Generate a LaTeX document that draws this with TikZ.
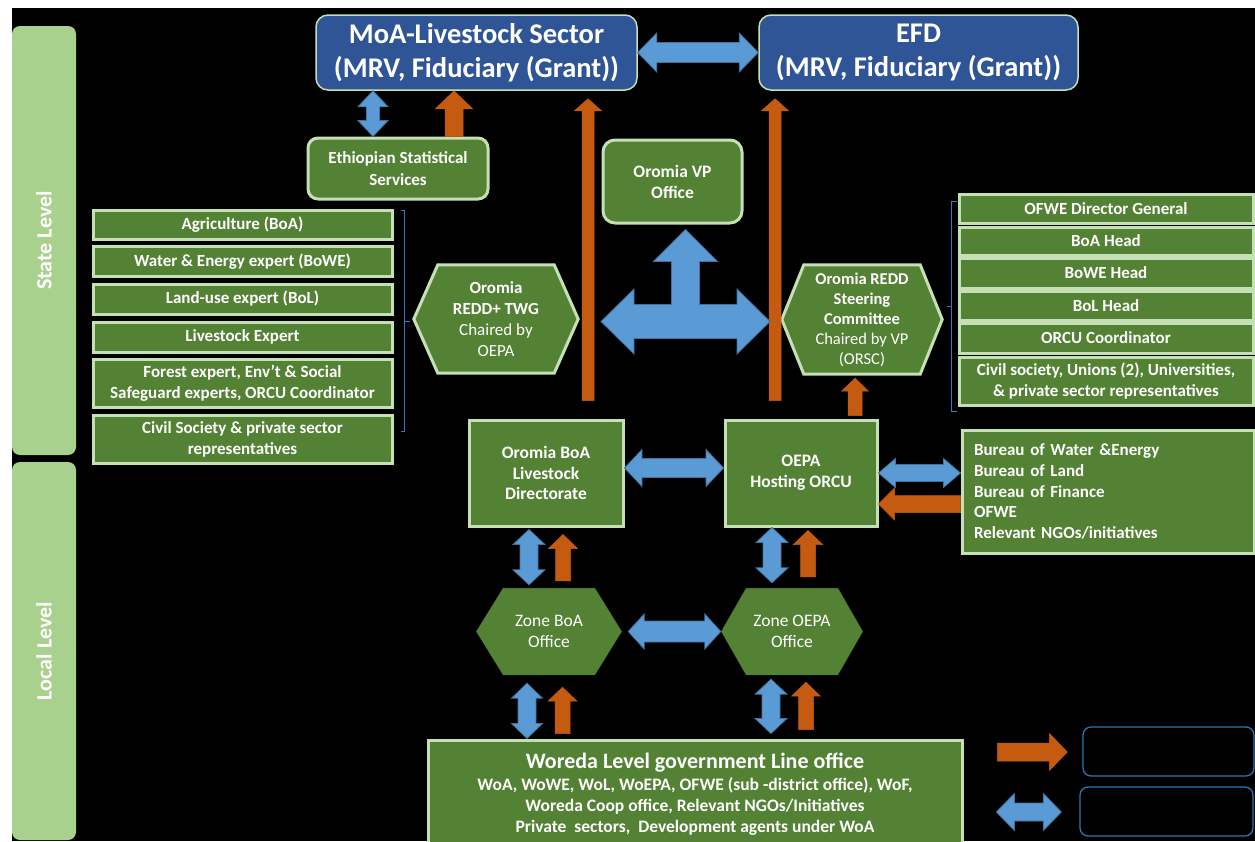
\documentclass[tikz,border=0pt]{standalone}
\usepackage{fontspec}
\setmainfont{Carlito}
\usetikzlibrary{calc,backgrounds}
\definecolor{dgreen}{HTML}{548235}
\definecolor{lgreen}{HTML}{C5E0B4}
\definecolor{bargreen}{HTML}{A9D18E}
\definecolor{boxblue}{HTML}{2F5597}
\definecolor{arrblue}{HTML}{5B9BD5}
\definecolor{arrblueline}{HTML}{41719C}
\definecolor{arrorange}{HTML}{C55A11}
\definecolor{brk}{HTML}{4472C4}
\definecolor{legline}{HTML}{2E75B6}
% block arrows (canvas coordinates)
\newcommand\arrUp[6]{\filldraw[#6] let \p1=(#1), \p2=(#2) in
 (\x1-#3,\y1) -- (\x1-#3,\y2-#5) -- (\x1-#4,\y2-#5) -- (\x1,\y2) -- (\x1+#4,\y2-#5) -- (\x1+#3,\y2-#5) -- (\x1+#3,\y1) -- cycle;}
\newcommand\arrLeft[6]{\filldraw[#6] let \p1=(#1), \p2=(#2) in
 (\x1,\y1+#3) -- (\x2+#5,\y1+#3) -- (\x2+#5,\y1+#4) -- (\x2,\y1) -- (\x2+#5,\y1-#4) -- (\x2+#5,\y1-#3) -- (\x1,\y1-#3) -- cycle;}
\newcommand\arrRight[6]{\filldraw[#6] let \p1=(#1), \p2=(#2) in
 (\x1,\y1+#3) -- (\x2-#5,\y1+#3) -- (\x2-#5,\y1+#4) -- (\x2,\y1) -- (\x2-#5,\y1-#4) -- (\x2-#5,\y1-#3) -- (\x1,\y1-#3) -- cycle;}
\newcommand\arrDblH[6]{\filldraw[#6] let \p1=(#1), \p2=(#2) in
 (\x1,\y1) -- (\x1+#5,\y1+#4) -- (\x1+#5,\y1+#3) -- (\x2-#5,\y1+#3) -- (\x2-#5,\y1+#4) -- (\x2,\y1) -- (\x2-#5,\y1-#4) -- (\x2-#5,\y1-#3) -- (\x1+#5,\y1-#3) -- (\x1+#5,\y1-#4) -- cycle;}
\newcommand\arrDblV[6]{\filldraw[#6] let \p1=(#1), \p2=(#2) in
 (\x1,\y1) -- (\x1-#4,\y1+#5) -- (\x1-#3,\y1+#5) -- (\x1-#3,\y2-#5) -- (\x1-#4,\y2-#5) -- (\x1,\y2) -- (\x1+#4,\y2-#5) -- (\x1+#3,\y2-#5) -- (\x1+#3,\y1+#5) -- (\x1+#4,\y1+#5) -- cycle;}
\newcommand\drawhex[3]{\filldraw[#3] (#1.west) -- ($(#1.north west)+(#2,0)$) -- ($(#1.north east)+(-#2,0)$) -- (#1.east) -- ($(#1.south east)+(-#2,0)$) -- ($(#1.south west)+(#2,0)$) -- cycle;}
\begin{document}
\begin{tikzpicture}[x=1pt,y=-1pt,
 gbox/.style={draw=lgreen, line width=3pt, fill=dgreen, text=white, align=center, inner sep=0pt, font=\bfseries\fontsize{17}{21}\selectfont},
 rgbox/.style={gbox, rounded corners=10pt},
 bbox/.style={draw=lgreen, line width=1.5pt, fill=boxblue, text=white, rounded corners=12pt, align=center, inner sep=0pt, font=\bfseries\fontsize{28.5}{34}\selectfont},
 hextext/.style={text=white, align=center, inner sep=0pt, font=\fontsize{17}{21}\selectfont},
 hexfill/.style={fill=dgreen, draw=lgreen, line width=3pt},
 hexplain/.style={fill=dgreen},
 levelbar/.style={fill=bargreen, rounded corners=8pt, text=white, inner sep=0pt, font=\bfseries\fontsize{22}{24}\selectfont, rotate=90},
 bluearr/.style={fill=arrblue, draw=arrblueline, line width=0.8pt},
 orarr/.style={fill=arrorange, draw=arrorange, line width=0.5pt},
 brack/.style={draw=brk, line width=1pt},
 legbox/.style={draw=legline, line width=1.3pt, rounded corners=8pt}]
\useasboundingbox (0,0) rectangle (1255,841);
\clip (0,0) rectangle (1255,841);

% level bars
\node[levelbar, minimum width=429pt, minimum height=64pt] (state) at (44,240.5) {State Level};
\node[levelbar, minimum width=378pt, minimum height=64pt] (local) at (44,651) {Local Level};

% top boxes
\node[bbox, minimum width=321pt, minimum height=75pt] (moa) at (476.5,52.5) {MoA-Livestock Sector\\(MRV, Fiduciary (Grant))};
\node[bbox, minimum width=319pt, minimum height=75pt] (efd) at (918.5,52.5) {EFD\\(MRV, Fiduciary (Grant))};
\node[rgbox, minimum width=180pt, minimum height=61pt, font=\bfseries\fontsize{17}{22}\selectfont] (ess) at (398,168.5) {Ethiopian Statistical\\Services};
\node[rgbox, rounded corners=12pt, minimum width=139pt, minimum height=83pt, font=\bfseries\fontsize{17.5}{21}\selectfont] (vp) at (672.5,181.5) {Oromia VP\\Office};

% left list
\node[gbox, minimum width=299pt, minimum height=29pt] (L1) at (242.5,224.5) {Agriculture (BoA)};
\node[gbox, minimum width=299pt, minimum height=30pt] (L2) at (242.5,261.5) {Water \& Energy expert (BoWE)};
\node[gbox, minimum width=299pt, minimum height=30pt] (L3) at (242.5,299) {Land-use expert (BoL)};
\node[gbox, minimum width=299pt, minimum height=30pt] (L4) at (242.5,337) {Livestock Expert};
\node[gbox, minimum width=299pt, minimum height=48pt] (L5) at (242.5,383) {Forest expert, Env’t \& Social\\Safeguard experts, ORCU Coordinator};
\node[gbox, minimum width=299pt, minimum height=48pt] (L6) at (242.5,439) {Civil Society \& private sector\\representatives};

% right list
\node[gbox, minimum width=294pt, minimum height=29pt] (R1) at (1106,208.5) {OFWE Director General};
\node[gbox, minimum width=294pt, minimum height=28pt] (R2) at (1106,241) {BoA Head};
\node[gbox, minimum width=294pt, minimum height=30pt] (R3) at (1106,273) {BoWE Head};
\node[gbox, minimum width=294pt, minimum height=29pt] (R4) at (1106,305.5) {BoL Head};
\node[gbox, minimum width=294pt, minimum height=30pt] (R5) at (1106,338) {ORCU Coordinator};
\node[gbox, minimum width=294pt, minimum height=48pt] (R6) at (1106,381) {Civil society, Unions (2), Universities,\\\& private sector representatives};

% hexagon texts
\node[hextext, minimum width=164pt, minimum height=108pt] (twg) at (496,319) {\textbf{Oromia}\\\textbf{REDD+ TWG}\\Chaired by\\OEPA};
\node[hextext, minimum width=160pt, minimum height=109pt, font=\fontsize{16.5}{20}\selectfont] (sc) at (862,319.5) {\textbf{Oromia REDD}\\\textbf{Steering}\\\textbf{Committee}\\Chaired by VP\\(ORSC)};

% middle boxes
\node[gbox, minimum width=154pt, minimum height=106pt, font=\bfseries\fontsize{17.5}{20.5}\selectfont] (boa) at (546,473) {Oromia BoA\\Livestock\\Directorate};
\node[gbox, minimum width=152pt, minimum height=106pt, font=\bfseries\fontsize{17.5}{21}\selectfont] (oepa) at (801,473) {OEPA\\Hosting ORCU};
\node[gbox, align=left, text width=268pt, minimum height=123pt, inner xsep=12pt, font=\bfseries\fontsize{17}{20.75}\selectfont] (bur) at (1108,491.5) {Bureau of Water \&Energy\\Bureau of Land\\Bureau of Finance\\OFWE\\Relevant NGOs/initiatives};

% zone hexagon texts
\node[hextext, minimum width=146pt, minimum height=87pt, font=\fontsize{17.5}{21}\selectfont] (zboa) at (549,631.5) {Zone BoA\\Office};
\node[hextext, minimum width=142pt, minimum height=87pt, font=\fontsize{17.5}{21}\selectfont] (zoepa) at (792,631.5) {Zone OEPA\\Office};

% woreda
\node[gbox, minimum width=534pt, minimum height=108pt, font=\bfseries\fontsize{17.5}{21}\selectfont] (wor) at (695,794) {{\fontsize{22}{23}\selectfont Woreda Level government Line office}\\[1pt]WoA, WoWE, WoL, WoEPA, OFWE (sub -district office), WoF,\\Woreda Coop office, Relevant NGOs/Initiatives\\Private~ sectors,~ Development agents under WoA};

% legend
\node[legbox, minimum width=171pt, minimum height=49pt] (leg1) at (1168.5,751.5) {};
\node[legbox, minimum width=173pt, minimum height=49pt] (leg2) at (1166.5,811.5) {};

% background and hexagons
\begin{scope}[on background layer]
 \fill[white] (0,0) rectangle (1255,841);
 \fill[black] (12,8) rectangle (1255,841);
 \drawhex{twg}{24}{hexfill}
 \drawhex{sc}{22}{hexfill}
 \drawhex{zboa}{27}{hexplain}
 \drawhex{zoepa}{25}{hexplain}
\end{scope}

% brackets
\coordinate (bl) at ($(L1.north east)+(7,2)$);
\draw[brack] (bl) -- ++(4,0) -- ++(0,221) -- ++(-4,0);
\draw[brack] ($(bl)+(4,111)$) -- ++(5,0);
\coordinate (br) at ($(R1.north west)+(-1,9)$);
\draw[brack] (br) -- ++(-5,0) -- ++(0,210) -- ++(5,0);
\draw[brack] ($(br)+(-5,105)$) -- ++(-5,0);

% arrows
\arrDblH{moa.east}{efd.west}{10pt}{19.5pt}{19pt}{bluearr}
\coordinate (c1) at ($(ess.north)+(-25,0)$);
\arrDblV{c1}{c1 |- moa.south}{6.5pt}{15pt}{16pt}{bluearr}
\coordinate (c2) at ($(ess.north)+(56,0)$);
\arrUp{c2}{c2 |- moa.south}{9pt}{18.5pt}{18pt}{orarr}

\coordinate (c3) at ($(boa.north)+(42,-18)$);
\coordinate (c3t) at ($(c3 |- moa.south)+(0,8)$);
\arrUp{c3}{c3t}{6pt}{13.5pt}{12pt}{orarr}
\coordinate (c4) at ($(oepa.north)+(-26,-18)$);
\coordinate (c4t) at ($(c4 |- efd.south)+(0,8)$);
\arrUp{c4}{c4t}{6pt}{13.5pt}{12pt}{orarr}
\coordinate (c5) at ($(oepa.north)+(54,-3)$);
\coordinate (c5t) at ($(c5 |- sc.south)+(0,4)$);
\arrUp{c5}{c5t}{7pt}{13.5pt}{13pt}{orarr}

\coordinate (hub) at ($(vp.south)+(13,97)$);
\filldraw[bluearr, shift={(hub)}] (-84.5,0) -- (-51.5,-32.5) -- (-51.5,-17) -- (-14,-17) -- (-14,-60) -- (-32,-60) -- (0,-92) -- (32,-60) -- (14,-60) -- (14,-17) -- (51.5,-17) -- (51.5,-32.5) -- (84.5,0) -- (51.5,32.5) -- (51.5,17) -- (-51.5,17) -- (-51.5,32.5) -- cycle;

\coordinate (c6) at ($(boa.east)+(0,-5)$);
\arrDblH{c6}{c6 -| oepa.west}{9.5pt}{18.5pt}{17.5pt}{bluearr}
\arrDblH{oepa.east}{oepa.east -| bur.west}{8.5pt}{14.5pt}{17pt}{bluearr}
\coordinate (c7) at ($(oepa.east)+(0,31)$);
\arrLeft{c7 -| bur.west}{c7}{8.5pt}{16pt}{16pt}{orarr}

\coordinate (c8) at ($(boa.south)+(-17,2)$);
\coordinate (c8b) at ($(c8 |- zboa.north)+(0,-3)$);
\arrDblV{c8b}{c8}{9pt}{16pt}{15pt}{bluearr}
\coordinate (c9) at ($(boa.south)+(17,7)$);
\coordinate (c9b) at ($(c9 |- zboa.north)+(0,-7)$);
\arrUp{c9b}{c9}{7.5pt}{14.5pt}{14pt}{orarr}
\coordinate (c10) at ($(oepa.south)+(-29,0)$);
\coordinate (c10b) at ($(c10 |- zoepa.north)+(0,-5)$);
\arrDblV{c10b}{c10}{9pt}{16pt}{15pt}{bluearr}
\coordinate (c11) at ($(oepa.south)+(7,3)$);
\coordinate (c11b) at ($(c11 |- zoepa.north)+(0,-11)$);
\arrUp{c11b}{c11}{7.5pt}{14.5pt}{14pt}{orarr}

\coordinate (c12) at ($(zboa.east)+(6,0)$);
\arrDblH{c12}{zoepa.west}{10.5pt}{17.5pt}{16pt}{bluearr}

\coordinate (c13) at ($(zboa.south)+(-22,8)$);
\coordinate (c13b) at (c13 |- wor.north);
\arrDblV{c13b}{c13}{9pt}{15.5pt}{15pt}{bluearr}
\coordinate (c14) at ($(zboa.south)+(13.5,12)$);
\coordinate (c14b) at ($(c14 |- wor.north)+(0,-5)$);
\arrUp{c14b}{c14}{7.5pt}{14.5pt}{14pt}{orarr}
\coordinate (c15) at ($(zoepa.south)+(-21,4)$);
\coordinate (c15b) at ($(c15 |- wor.north)+(0,-5)$);
\arrDblV{c15b}{c15}{9pt}{16pt}{15pt}{bluearr}
\coordinate (c16) at ($(zoepa.south)+(14,7)$);
\coordinate (c16b) at ($(c16 |- wor.north)+(0,-9)$);
\arrUp{c16b}{c16}{7.5pt}{14.5pt}{14pt}{orarr}

% legend arrows
\coordinate (c17) at ($(leg1.west)+(-15,0.5)$);
\coordinate (c17a) at ($(c17)+(-70,0)$);
\arrRight{c17a}{c17}{9pt}{18.5pt}{18pt}{orarr}
\coordinate (c18) at ($(leg2.west)+(-18,0.5)$);
\coordinate (c18a) at ($(c18)+(-65,0)$);
\arrDblH{c18a}{c18}{9pt}{18.5pt}{18pt}{bluearr}
\end{tikzpicture}
\end{document}
